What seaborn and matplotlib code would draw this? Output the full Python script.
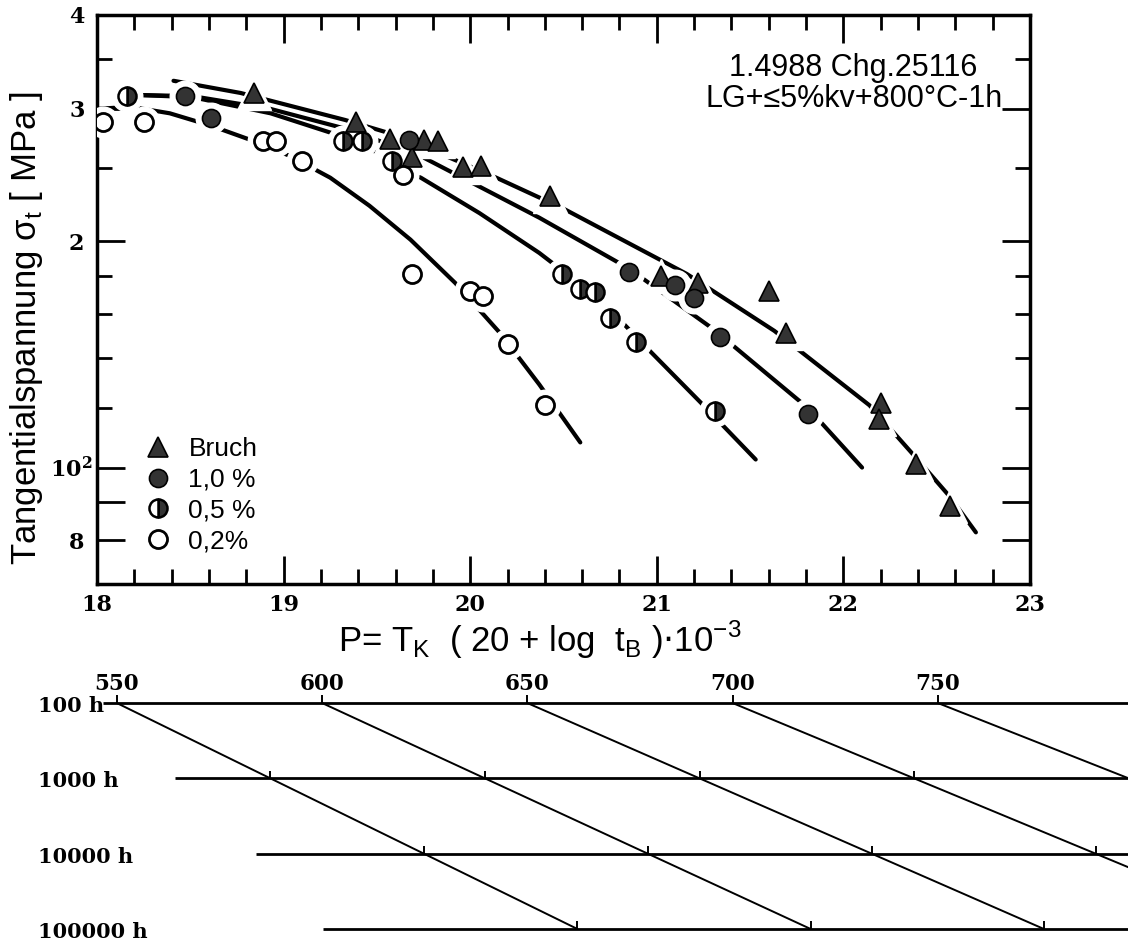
import numpy as np
import pandas as pd
import matplotlib
matplotlib.use("Agg")
import matplotlib.pyplot as plt
import matplotlib.transforms as mtransforms
import seaborn as sns
from matplotlib.lines import Line2D
from matplotlib.ticker import FixedLocator, NullFormatter

# ---------------- data ----------------
# Larson-Miller parameter P and tangential stress [MPa]
bruch_P = [18.84, 19.39, 19.57, 19.75, 19.83, 19.69, 19.96, 20.06, 20.43, 21.02,
           21.22, 21.60, 21.69, 22.20, 22.19, 22.39, 22.57]
bruch_S = [315, 288, 274, 273, 272, 259, 251, 252, 230, 180,
           176, 172, 151, 122, 116, 101, 89]
p10_P = [18.47, 18.61, 19.67, 20.85, 21.10, 21.20, 21.34, 21.81]
p10_S = [312, 292, 273, 182, 175, 168, 149, 118]
p05_P = [18.16, 19.32, 19.42, 19.58, 20.49, 20.59, 20.67, 20.75, 20.89, 21.31]
p05_S = [312, 272, 272, 256, 181, 173, 171, 158, 147, 119]
p02_P = [18.03, 18.25, 18.89, 18.96, 19.10, 19.64, 19.69, 20.00, 20.07, 20.20, 20.40]
p02_S = [288, 288, 272, 272, 256, 245, 181, 172, 169, 146, 121]

# fitted curves
cb_P = [18.41, 18.77, 19.33, 19.62, 20.14, 20.50, 21.16, 21.63, 22.14, 22.39, 22.57, 22.71]
cb_S = [327, 315, 290, 276, 243, 221, 181, 152, 121, 103, 91.5, 82]
c10_P = [18.23, 18.51, 18.93, 19.34, 19.73, 20.37, 20.85, 21.30, 21.81, 22.10]
c10_S = [313, 312, 300, 282, 260, 215, 184, 153, 120, 100]
c05_P = [18.23, 18.51, 18.93, 19.27, 19.51, 19.70, 20.05, 20.37, 20.70, 20.95, 21.25, 21.53]
c05_S = [313, 311, 296, 278, 262, 246, 218, 193, 167, 144, 121, 102.5]
c02_P = [18.00, 18.18, 18.39, 18.61, 18.82, 19.03, 19.25, 19.46, 19.68, 19.92, 20.16, 20.37, 20.59]
c02_S = [300, 302, 296, 285, 273, 260, 243, 223, 201, 176, 151, 129, 108]

legend_labels = ["Bruch", "1,0 %", "0,5 %", "0,2%"]
x_ticks = [18, 19, 20, 21, 22, 23]
y_ticks = [80, 90, 100, 200, 300, 400]
y_ticklabels = ["8", "", r"10$^{\mathbf{2}}$", "2", "3", "4"]
y_minor = [120, 140, 160, 180, 250, 350]

# nomogram: temperatures [deg C], rupture times [h], start of each time line (P)
nomo_T = [550, 600, 650, 700, 750]
nomo_t = [100, 1000, 10000, 100000]
nomo_t_labels = ["100 h", "1000 h", "10000 h", "100000 h"]
nomo_line_start = [18.03, 18.42, 18.85, 19.21]

# ---------------- style ----------------
sns.set_theme(style="ticks")
plt.rcParams["font.family"] = ["Liberation Sans", "DejaVu Sans"]
plt.rcParams["axes.linewidth"] = 2.5
plt.rcParams["axes.edgecolor"] = "black"
plt.rcParams["text.color"] = "black"
plt.rcParams["axes.labelcolor"] = "black"
plt.rcParams["xtick.color"] = "black"
plt.rcParams["ytick.color"] = "black"
plt.rcParams["xtick.labelcolor"] = "black"
plt.rcParams["ytick.labelcolor"] = "black"
plt.rcParams["mathtext.fontset"] = "dejavuserif"

W, H = 1128, 941
fig = plt.figure(figsize=(W / 100, H / 100), dpi=100)
ax = fig.add_axes([97 / W, 1 - 584 / H, 933 / W, 569 / H])

dark = "#333333"
curve_lw = 3.0

curves = pd.concat([
    pd.DataFrame({"P": cb_P, "S": cb_S, "k": "b"}),
    pd.DataFrame({"P": c10_P, "S": c10_S, "k": "10"}),
    pd.DataFrame({"P": c05_P, "S": c05_S, "k": "05"}),
    pd.DataFrame({"P": c02_P, "S": c02_S, "k": "02"}),
])
sns.lineplot(data=curves, x="P", y="S", units="k", estimator=None, sort=False,
             color="black", lw=curve_lw, ax=ax, zorder=2, legend=False)

series = [
    (bruch_P, bruch_S, dict(marker="^", ms=15, mfc=dark, mec="black", mew=1.2)),
    (p10_P, p10_S, dict(marker="o", ms=13, mfc=dark, mec="black", mew=1.2)),
    (p05_P, p05_S, dict(marker="o", ms=13, mfc=dark, mec="black", mew=1.8,
                        fillstyle="right", markerfacecoloralt="white")),
    (p02_P, p02_S, dict(marker="o", ms=13, mfc="white", mec="black", mew=2.0)),
]
# white halos -> gaps in the curves around the symbols
for xs, ys, st in series:
    ax.plot(xs, ys, ls="none", marker=st["marker"], ms=st["ms"] + 9,
            mfc="white", mec="white", zorder=3)
handles = []
for xs, ys, st in series:
    ax.plot(xs, ys, ls="none", zorder=4, **st)
    handles.append(Line2D([], [], ls="none", **st))

ax.set_yscale("log")
ax.set_xlim(18, 23)
ax.set_ylim(70, 400)
ax.set_xticks(x_ticks)
ax.set_xticklabels([str(v) for v in x_ticks])
ax.xaxis.set_minor_locator(FixedLocator(np.arange(18.2, 23, 0.2)))
ax.yaxis.set_major_locator(FixedLocator(y_ticks))
ax.set_yticklabels(y_ticklabels)
ax.yaxis.set_minor_locator(FixedLocator(y_minor))
ax.yaxis.set_minor_formatter(NullFormatter())
ax.tick_params(which="both", direction="in", top=True, right=True,
               width=2.0, color="black")
ax.tick_params(which="major", length=20)
ax.tick_params(which="minor", length=11)
ax.tick_params(axis="x", which="major", pad=7)
ax.tick_params(axis="y", which="major", pad=9)
for lab in ax.get_xticklabels() + ax.get_yticklabels():
    lab.set_fontfamily("DejaVu Serif")
    lab.set_fontweight("bold")
    lab.set_fontsize(16)
    lab.set_color("black")
# the 10^2 label sits closer to the spine in the original
lab100 = ax.get_yticklabels()[2]
lab100.set_transform(lab100.get_transform() +
                     mtransforms.ScaledTranslation(6 / 72, 0, fig.dpi_scale_trans))

ax.set_xlabel(r"P= T$_{\mathregular{K}}$  ( 20 + log  t$_{\mathregular{B}}$ )$\cdot$10$^{\mathregular{-3}}$",
              fontsize=25, math_fontfamily="dejavusans")
ax.xaxis.label.set_va("center")
ax.xaxis.set_label_coords(0.475, -0.098)
ax.set_ylabel(r"Tangentialspannung σ$_{\mathregular{t}}$ [ MPa ]", fontsize=25,
              math_fontfamily="dejavusans")
ax.yaxis.label.set_va("center")
ax.yaxis.set_label_coords(-0.076, 0.45)

ax.text(0.811, 0.8796, "1.4988 Chg.25116\nLG+\u22645%kv+800\u00b0C-1h",
        transform=ax.transAxes, ha="center", va="center", fontsize=22,
        linespacing=1.05, multialignment="center", color="black")

ax.legend(handles, legend_labels, loc="upper left", bbox_to_anchor=(0.0514, 0.2585),
          frameon=False, fontsize=19, handlelength=1.0, handletextpad=0.65,
          labelspacing=0.26, borderpad=0, borderaxespad=0, labelcolor="black")

# ---------------- nomogram ----------------
ax2 = fig.add_axes([0, 0, 1, 1 - 660 / H])
ax2.set_xlim(18 - 97 / 186.6, 18 + (W - 97) / 186.6)
ax2.set_ylim(5.159, 1.429)
ax2.axis("off")

logt = np.log10(nomo_t)
x_right = 18 + (W - 97) / 186.6
ax2.hlines(logt, nomo_line_start, x_right, color="black", lw=2.0)
for lt, lab in zip(logt, nomo_t_labels):
    ax2.text(17.684, lt + 0.04, lab, ha="left", va="center", fontsize=15,
             fontfamily="DejaVu Serif", fontweight="bold", color="black")

rows = []
for T in nomo_T:
    for t in nomo_t:
        rows.append({"T": T, "logt": np.log10(t),
                     "P": (T + 273) * (20 + np.log10(t)) / 1000})
nomo = pd.DataFrame(rows)
sns.lineplot(data=nomo, x="P", y="logt", units="T", estimator=None, sort=False,
             color="black", lw=1.4, ax=ax2, legend=False)
vis = nomo[nomo["P"] < x_right]
ax2.vlines(vis["P"], vis["logt"] - 0.1, vis["logt"], color="black", lw=1.4)
for T in nomo_T:
    p0 = (T + 273) * 22 / 1000
    ax2.annotate(str(T), (p0, 2), xytext=(0, 6), textcoords="offset points",
                 ha="center", va="bottom", fontsize=15.5,
                 fontfamily="DejaVu Serif", fontweight="bold", color="black")

fig.savefig("out.png", dpi=100)
